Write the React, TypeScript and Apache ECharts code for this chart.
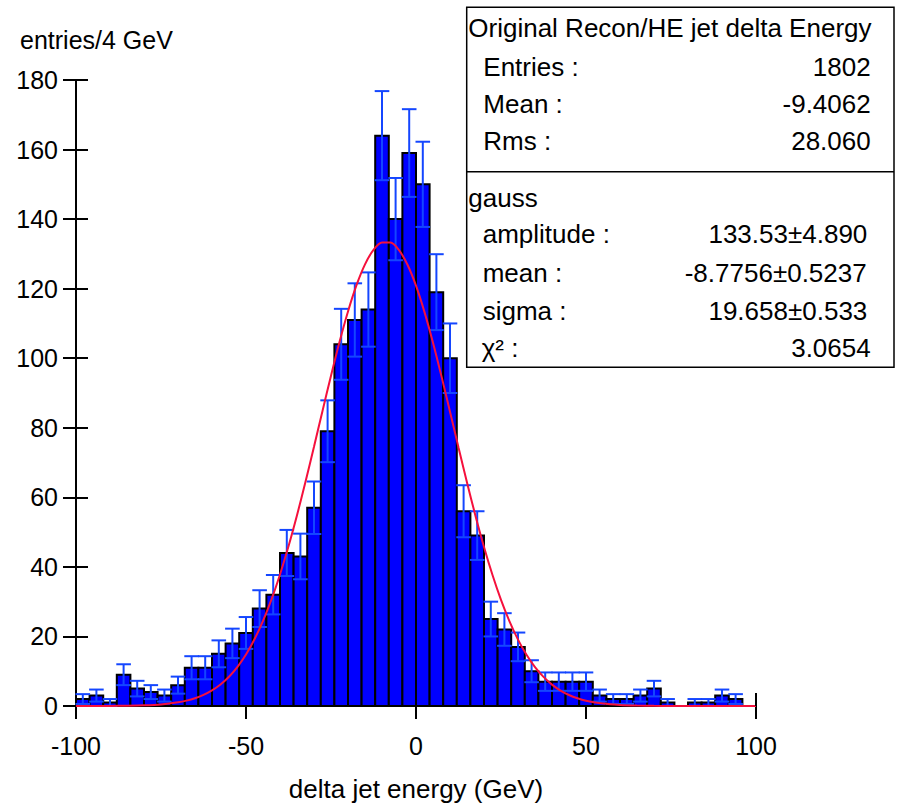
import React, { useEffect, useRef } from "react";
import * as echarts from "echarts";

// Histogram: 50 bins of 4 GeV from -100 to 100
const binEdgesLow = [
  -100, -96, -92, -88, -84, -80, -76, -72, -68, -64,
  -60, -56, -52, -48, -44, -40, -36, -32, -28, -24,
  -20, -16, -12, -8, -4, 0, 4, 8, 12, 16,
  20, 24, 28, 32, 36, 40, 44, 48, 52, 56,
  60, 64, 68, 72, 76, 80, 84, 88, 92, 96,
];
const binWidth = 4;
const counts = [
  2, 3, 1, 9, 5, 4, 3, 6, 11, 11,
  15, 18, 21, 28, 32, 44, 43, 57, 79, 104,
  111, 114, 164, 140, 159, 150, 119, 100, 56, 49,
  25, 22, 17, 10, 7, 7, 7, 7, 3, 2,
  2, 3, 5, 1, 0, 1, 1, 3, 2, 0,
];
const errors = [
  1.41, 1.73, 1.0, 3.0, 2.24, 2.0, 1.73, 2.45, 3.32, 3.32,
  3.87, 4.24, 4.58, 5.29, 5.66, 6.63, 6.56, 7.55, 8.89, 10.2,
  10.54, 10.68, 12.81, 11.83, 12.61, 12.25, 10.91, 10.0, 7.48, 7.0,
  5.0, 4.69, 4.12, 3.16, 2.65, 2.65, 2.65, 2.65, 1.73, 1.41,
  1.41, 1.73, 2.24, 1.0, 0, 1.0, 1.0, 1.73, 1.41, 0,
];

const curveX = [
  -100, -95, -90, -85, -80, -75, -70, -67.5, -65, -62.5,
  -60, -57.5, -55, -52.5, -50, -47.5, -45, -42.5, -40, -37.5,
  -35, -32.5, -30, -27.5, -25, -22.5, -20, -17.5, -15, -12.5,
  -10, -7.5, -5, -2.5, 0, 2.5, 5, 7.5, 10, 12.5,
  15, 17.5, 20, 22.5, 25, 27.5, 30, 32.5, 35, 37.5,
  40, 42.5, 45, 47.5, 50, 55, 60, 65, 70, 75,
  80, 85, 90, 95, 100,
];
const curveY = [
  0.003, 0.009, 0.026, 0.073, 0.19, 0.46, 1.05, 1.54, 2.23, 3.19,
  4.48, 6.19, 8.41, 11.25, 14.81, 19.18, 24.45, 30.65, 37.82, 45.91,
  54.84, 64.47, 74.55, 84.85, 94.99, 104.67, 113.45, 121.01, 127.0, 131.16,
  133.27, 133.25, 131.09, 126.89, 120.87, 113.26, 104.46, 94.78, 84.62, 74.33,
  64.26, 54.66, 45.73, 37.66, 30.51, 24.33, 19.08, 14.73, 11.19, 8.36,
  6.15, 4.45, 3.17, 2.22, 1.53, 0.69, 0.29, 0.12, 0.044, 0.015,
  0.005, 0.001, 0, 0, 0,
];

const xTicks = { min: -100, max: 100, interval: 50 };
const yTicks = { min: 0, max: 180, interval: 20 };

const statsTitle = "Original Recon/HE jet delta Energy";
const statsLabels = ["Entries :", "Mean :", "Rms :"];
const statsValues = ["1802", "-9.4062", "28.060"];
const fitTitle = "gauss";
const fitLabels = ["amplitude :", "mean :", "sigma :", "χ² :"];
const fitValues = ["133.53±4.890", "-8.7756±0.5237", "19.658±0.533", "3.0654"];

const FONT = '"Liberation Sans", Arial, Helvetica, sans-serif';

export default function App() {
  const ref = useRef<HTMLDivElement>(null);
  useEffect(() => {
    if (!ref.current) return;
    const chart = echarts.init(ref.current, undefined, { renderer: "svg" });

    const barData = binEdgesLow.map((x0, i) => [x0, x0 + binWidth, counts[i]]);
    const errData = binEdgesLow.map((x0, i) => [x0 + binWidth / 2, counts[i], errors[i], x0, x0 + binWidth]);
    const curveData = curveX.map((x, i) => [x, curveY[i]]);

    const txt = (text: string, x: number, y: number, align: string, size = 26) => ({
      type: "text",
      x,
      y,
      z: 100,
      style: {
        text,
        fill: "#000",
        fontSize: size,
        fontFamily: FONT,
        align,
        verticalAlign: "middle",
      },
    });

    const statRowsY = [67, 104.3, 141];
    const fitRowsY = [234.3, 272.7, 311, 347.7];
    const fitRight = [867.3, 866.7, 867.3, 870.7];

    const graphics: any[] = [
      {
        type: "rect",
        z: 90,
        shape: { x: 466.7, y: 7.3, width: 427.3, height: 360 },
        style: { fill: "#fff", stroke: "#000", lineWidth: 1.5 },
      },
      {
        type: "line",
        z: 91,
        shape: { x1: 466.7, y1: 171.7, x2: 894, y2: 171.7 },
        style: { stroke: "#000", lineWidth: 1.5 },
      },
      txt(statsTitle, 468.3, 27.7, "left"),
      ...statsLabels.map((l, i) => txt(l, 483.3, statRowsY[i], "left")),
      ...statsValues.map((v, i) => txt(v, 870.7, statRowsY[i], "right")),
      txt(fitTitle, 468.3, 197.7, "left"),
      ...fitLabels.map((l, i) => txt(l, i === 3 ? 481.7 : 482.7, fitRowsY[i], "left")),
      ...fitValues.map((v, i) => txt(v, fitRight[i], fitRowsY[i], "right")),
      txt("entries/4 GeV", 20, 39.6, "left", 25),
    ];

    chart.setOption({
      animation: false,
      backgroundColor: "#fff",
      grid: { left: 76, right: 145, top: 80, bottom: 99 },
      xAxis: {
        type: "value",
        min: xTicks.min,
        max: xTicks.max,
        interval: xTicks.interval,
        name: "delta jet energy (GeV)",
        nameLocation: "middle",
        nameGap: 70,
        nameTextStyle: { color: "#000", fontSize: 26, fontFamily: FONT },
        axisLine: { show: true, onZero: false, lineStyle: { color: "#000", width: 2 } },
        axisTick: { show: true, inside: false, length: 13, lineStyle: { color: "#000", width: 2 } },
        axisLabel: { color: "#000", fontSize: 25, fontFamily: FONT, margin: 27 },
        splitLine: { show: false },
      },
      yAxis: [
        {
          type: "value",
          min: yTicks.min,
          max: yTicks.max,
          interval: yTicks.interval,
          position: "left",
          axisLine: { show: true, onZero: false, lineStyle: { color: "#000", width: 2 } },
          axisTick: { show: true, inside: false, length: 13, lineStyle: { color: "#000", width: 2 } },
          axisLabel: {
            color: "#000",
            fontSize: 25,
            fontFamily: FONT,
            margin: 18,
            padding: [12, 0, 0, 0],
          },
          splitLine: { show: false },
        },
        {
          type: "value",
          min: yTicks.min,
          max: yTicks.max,
          interval: yTicks.interval,
          position: "left",
          axisLine: { show: false, onZero: false },
          axisTick: { show: true, inside: true, length: 12, lineStyle: { color: "#000", width: 2 } },
          axisLabel: { show: false },
          splitLine: { show: false },
        },
      ],
      series: [
        {
          type: "custom",
          z: 2,
          data: barData,
          renderItem: (params: any, api: any) => {
            const v = api.value(2);
            if (!v) return null;
            const p0 = api.coord([api.value(0), v]);
            const p1 = api.coord([api.value(1), 0]);
            return {
              type: "rect",
              shape: { x: p0[0], y: p0[1], width: p1[0] - p0[0], height: p1[1] - p0[1] },
              style: { fill: "#0000ff", stroke: "#000", lineWidth: 2 },
            };
          },
        },
        {
          type: "custom",
          z: 3,
          data: errData,
          renderItem: (params: any, api: any) => {
            const c = api.value(1);
            const e = api.value(2);
            if (!c) return null;
            const xc = api.value(0);
            const top = api.coord([xc, c + e]);
            const bot = api.coord([xc, c - e]);
            const l = api.coord([api.value(3), 0])[0];
            const r = api.coord([api.value(4), 0])[0];
            const half = (r - l) / 2 + 0.5;
            const st = { stroke: "#1446ff", lineWidth: 2 };
            return {
              type: "group",
              children: [
                { type: "line", shape: { x1: top[0], y1: top[1], x2: bot[0], y2: bot[1] }, style: st },
                { type: "line", shape: { x1: top[0] - half, y1: top[1], x2: top[0] + half, y2: top[1] }, style: st },
                { type: "line", shape: { x1: bot[0] - half, y1: bot[1], x2: bot[0] + half, y2: bot[1] }, style: st },
              ],
            };
          },
        },
        {
          // upward part of the end tick at x = 100
          type: "custom",
          z: 5,
          data: [[xTicks.max]],
          renderItem: (params: any, api: any) => {
            const p = api.coord([api.value(0), 0]);
            return {
              type: "line",
              shape: { x1: p[0], y1: p[1], x2: p[0], y2: p[1] - 13 },
              style: { stroke: "#000", lineWidth: 2 },
            };
          },
        },
        {
          type: "line",
          z: 4,
          data: curveData,
          showSymbol: false,
          symbol: "none",
          smooth: 0.3,
          lineStyle: { color: "#f5103c", width: 2 },
        },
      ],
      graphic: graphics,
    });

    return () => chart.dispose();
  }, []);

  return (
    <div
      ref={ref}
      style={{ position: "fixed", left: 0, top: 0, width: 901, height: 807, background: "#fff" }}
    />
  );
}
